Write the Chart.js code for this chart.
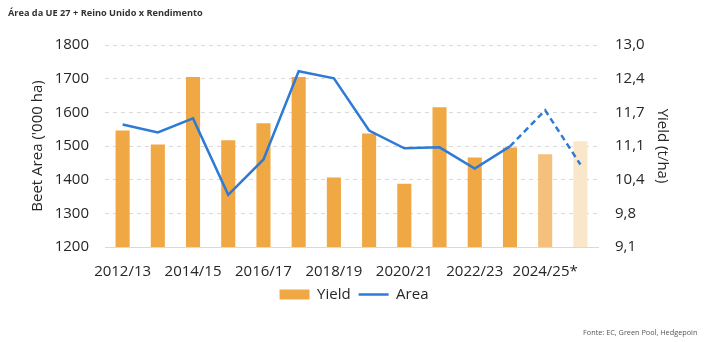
<!DOCTYPE html>
<html>
<head>
<meta charset="utf-8">
<script src="https://cdn.jsdelivr.net/npm/chart.js@4"></script>
<style>
  body { margin: 0; background: #fff; }
  #wrap { position: relative; width: 708px; height: 342px; }
  #title { position: absolute; left: 8px; top: 6px; font: bold 9.2px "Open Sans"; color: #333; }
  #source { position: absolute; left: 583px; top: 327px; font: 7.3px "Open Sans"; color: #555; white-space: nowrap; }
</style>
</head>
<body>
<div id="wrap">
  <canvas id="myChart" width="708" height="342"></canvas>
  <div id="title">Área da UE 27 + Reino Unido x Rendimento</div>
  <div id="source">Fonte: EC, Green Pool, Hedgepoin</div>
</div>
<script>
let seasons = ['2012/13', '2013/14', '2014/15', '2015/16', '2016/17', '2017/18', '2018/19',
               '2019/20', '2020/21', '2021/22', '2022/23', '2023/24', '2024/25*', '2025/26*'];
let yieldValues = [11.35, 11.08, 12.38, 11.16, 11.49, 12.38, 10.44, 11.29, 10.32, 11.80, 10.83, 11.02, 10.89, 11.14];
let areaValues = [1564, 1540, 1582, 1355, 1460, 1722, 1701, 1546, 1493, 1496, 1433, 1499, 1606, 1445];
let areaTicks = [1200, 1300, 1400, 1500, 1600, 1700, 1800];
let yieldTicks = ['9,1', '9,8', '10,4', '11,1', '11,7', '12,4', '13,0'];
let yieldMin = 9.1;
let yieldMax = 13.0;

const textColor = '#262626';
const font15 = { family: 'Open Sans', size: 15 };

function barColor(ctx) {
    // last two seasons are estimates, drawn lighter
    if (ctx.dataIndex === 12) return '#F4C07C';
    if (ctx.dataIndex === 13) return '#FAE6C9';
    return '#EFA843';
}

var ctx = document.getElementById('myChart').getContext('2d');
var chart = new Chart(ctx, {
    type: 'bar',
    data: {
        labels: seasons,
        datasets: [{
            label: 'Yield',
            data: yieldValues,
            yAxisID: 'y1',
            backgroundColor: barColor,
            borderWidth: 0,
            categoryPercentage: 0.8,
            barPercentage: 0.5,
            pointStyle: 'rect',
            order: 1
        }, {
            type: 'line',
            label: 'Area',
            data: areaValues,
            yAxisID: 'y',
            borderColor: '#2E7BD6',
            backgroundColor: '#2E7BD6',
            borderWidth: 2.5,
            pointRadius: 0,
            pointStyle: 'line',
            tension: 0,
            segment: {
                borderDash: c => c.p0DataIndex >= 11 ? [6, 4] : undefined
            },
            order: 0
        }]
    },
    options: {
        responsive: false,
        animation: false,
        layout: { padding: { top: 45, bottom: 30, left: 0, right: 0 } },
        plugins: {
            tooltip: { enabled: false },
            legend: {
                position: 'bottom',
                labels: {
                    usePointStyle: true,
                    pointStyleWidth: 30,
                    boxHeight: 10,
                    padding: 8,
                    font: font15,
                    color: textColor,
                    sort: (a, b) => a.datasetIndex - b.datasetIndex
                }
            }
        },
        scales: {
            x: {
                grid: { display: false, drawTicks: false },
                border: { color: '#d9d9d9' },
                afterFit: s => { s.height = 32; },
                ticks: {
                    font: font15,
                    color: textColor,
                    autoSkip: false,
                    maxRotation: 0,
                    padding: 16,
                    callback: (v, i) => i % 2 === 0 ? seasons[i] : ''
                }
            },
            y: {
                position: 'left',
                min: areaTicks[0],
                max: areaTicks[areaTicks.length - 1],
                afterBuildTicks: s => { s.ticks = areaTicks.map(v => ({ value: v })); },
                afterFit: s => { s.width = 105; },
                grid: { color: '#d9d9d9', drawTicks: false },
                border: { display: false, dash: [4, 4] },
                ticks: { font: font15, color: textColor, padding: 16, callback: v => String(v) },
                title: {
                    display: true,
                    text: "Beet Area ('000 ha)",
                    font: font15,
                    color: textColor,
                    padding: { top: 29, bottom: 0 }
                }
            },
            y1: {
                position: 'right',
                min: yieldMin,
                max: yieldMax,
                afterBuildTicks: s => {
                    let step = (yieldMax - yieldMin) / (yieldTicks.length - 1);
                    s.ticks = yieldTicks.map((t, i) => ({ value: yieldMin + step * i }));
                },
                afterFit: s => { s.width = 110; },
                grid: { display: false, drawTicks: false },
                border: { display: false },
                ticks: {
                    font: font15,
                    color: textColor,
                    padding: 17,
                    callback: (v, i) => yieldTicks[i]
                },
                title: {
                    display: true,
                    text: 'Yield (t/ha)',
                    font: font15,
                    color: textColor,
                    padding: { top: 37, bottom: 0 }
                }
            }
        }
    }
});
</script>
</body>
</html>
